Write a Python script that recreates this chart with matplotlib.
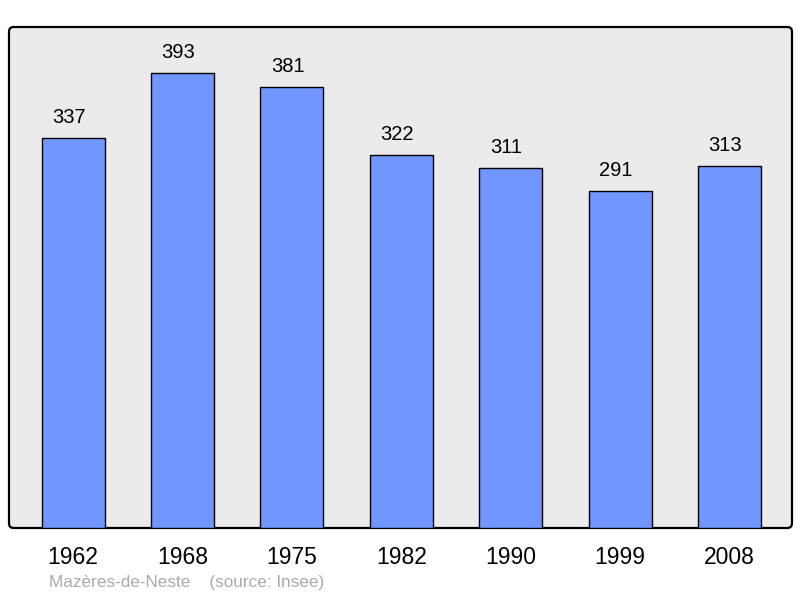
import matplotlib.pyplot as plt
from matplotlib.patches import FancyBboxPatch

plt.rcParams['font.family'] = ['Liberation Sans', 'DejaVu Sans']

years = ['1962', '1968', '1975', '1982', '1990', '1999', '2008']
population = [337, 393, 381, 322, 311, 291, 313]

fig = plt.figure(figsize=(8, 5.98), dpi=100)
ax = fig.add_axes([9 / 800, 70 / 598, 783 / 800, 501 / 598])

# rounded grey frame instead of the normal axes box
ax.patch.set_visible(False)
for s in ax.spines.values():
    s.set_visible(False)
frame = FancyBboxPatch((0, 0), 1, 1, boxstyle='round,pad=0,rounding_size=0.006',
                       mutation_aspect=783 / 501, transform=ax.transAxes,
                       facecolor='#ebebeb', edgecolor='black', linewidth=1.6,
                       zorder=0, clip_on=False)
ax.add_patch(frame)

x = list(range(len(years)))
bars = ax.bar(x, population, width=0.576, color='#7196ff',
              edgecolor='black', linewidth=1.0, zorder=2)
for b in bars:
    b.set_joinstyle('round')

for xi, v in zip(x, population):
    ax.annotate(str(v), (xi, v), xytext=(-3, 8), textcoords='offset points',
                ha='center', va='bottom', fontsize=14.5, color='black')

ax.set_xlim(-0.585, 6.57)
ax.set_ylim(0, 433)
ax.set_xticks(x)
ax.set_xticklabels(years, fontsize=16.5)
ax.tick_params(axis='x', length=0, pad=13)
ax.set_yticks([])

fig.text(49 / 800, 1 - 583 / 598, 'Mazères-de-Neste    (source: Insee)',
         fontsize=12.3, color='#aaaaaa', va='center', ha='left')

fig.savefig('out.png', dpi=100)
